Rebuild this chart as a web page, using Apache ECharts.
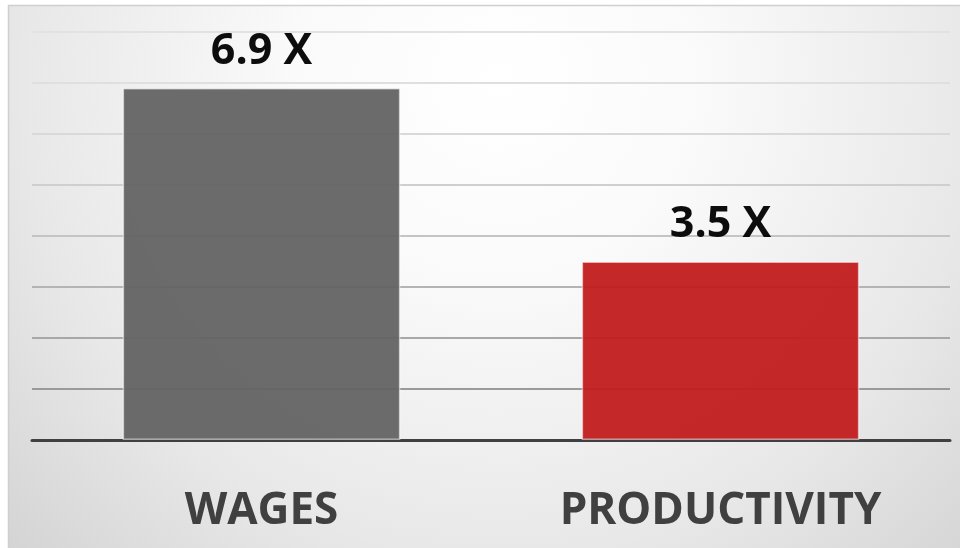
<!DOCTYPE html>
<html>
<head>
<meta charset="utf-8">
<script src="https://cdn.jsdelivr.net/npm/echarts@6/dist/echarts.min.js"></script>
<style>
  html, body { margin: 0; padding: 0; background: #fff; }
  #chart { width: 960px; height: 548px; }
</style>
</head>
<body>
<div id="chart"></div>
<script>
const categories = ['WAGES', 'PRODUCTIVITY']
const multiples = [6.9, 3.5]
const barColors = ['#636363', '#c11c1c']
// gridlines get darker toward the bottom (index 0 = value 0)
const gridColors = ['#9a9a9a', '#9a9a9a', '#a8a8a8', '#b4b4b4', '#c4c4c4', '#cfcfcf', '#d9d9d9', '#dfdfdf', '#e2e2e2']

const chart = echarts.init(document.getElementById('chart'))

chart.setOption({
  backgroundColor: '#ffffff',
  animation: false,
  graphic: [
    {
      type: 'rect',
      z: -10,
      silent: true,
      shape: { x: 8.5, y: 5.5, width: 960, height: 560 },
      style: {
        fill: new echarts.graphic.RadialGradient(500, 80, 680, [
          { offset: 0, color: '#ffffff' },
          { offset: 0.3, color: '#fafafa' },
          { offset: 0.7, color: '#e8e8e8' },
          { offset: 1, color: '#d4d4d4' }
        ], true),
        stroke: '#cfcfcf',
        lineWidth: 1.5
      }
    }
  ],
  grid: {
    left: 32,
    right: 10,
    top: 32,
    bottom: 108
  },
  xAxis: {
    type: 'category',
    data: categories,
    axisTick: { show: false },
    axisLine: { lineStyle: { color: '#404040', width: 3 } },
    axisLabel: {
      margin: 49,
      color: '#404040',
      fontSize: 44,
      fontWeight: 'bold',
      fontFamily: 'Open Sans'
    }
  },
  yAxis: {
    type: 'value',
    min: 0,
    max: 8,
    interval: 1,
    axisLabel: { show: false },
    axisLine: { show: false },
    axisTick: { show: false },
    splitLine: { lineStyle: { color: gridColors, width: 2 } }
  },
  series: [
    {
      type: 'bar',
      barCategoryGap: '39.5%',
      data: multiples.map((v, i) => ({
        value: v,
        itemStyle: { color: barColors[i] }
      })),
      itemStyle: {
        opacity: 0.95,
        borderColor: 'rgba(255,255,255,0.55)',
        borderWidth: 1.5
      },
      label: {
        show: true,
        position: 'top',
        distance: 15,
        formatter: '{c} X',
        color: '#000',
        fontSize: 43,
        fontWeight: 'bold',
        fontFamily: 'Open Sans'
      }
    }
  ]
})
</script>
</body>
</html>
